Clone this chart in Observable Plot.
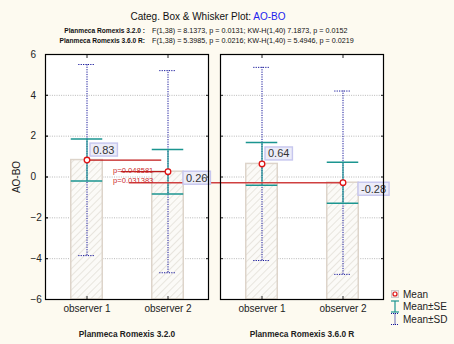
<!DOCTYPE html>
<html><head><meta charset="utf-8">
<script src="https://cdn.jsdelivr.net/npm/d3@7"></script>
<script src="https://cdn.jsdelivr.net/npm/@observablehq/plot@0.6"></script>
<style>
html,body{margin:0;padding:0;background:#fdfaf0;}
#chart{position:relative;width:454px;height:344px;background:#fdfaf0;font-family:"Liberation Sans",Arial,sans-serif;}
</style></head><body><div id="chart"></div>
<script>
// ---- data ----
const versions = ["Planmeca Romexis 3.2.0", "Planmeca Romexis 3.6.0 R"];
const observers = ["observer 1", "observer 2"];
const means = [0.83, 0.26, 0.64, -0.28];
const se = [1.03, 1.09, 1.05, 1.00];
const sd = [4.68, 4.95, 4.73, 4.49];
const yDomain = [-6, 6];
const yTicks = [-6, -4, -2, 0, 2, 4, 6];
const gridTicks = [-4, -2, 0, 2, 4];
const titleMain = "Categ. Box & Whisker Plot: ";
const titleVar = "AO-BO";
const statLabels = ["Planmeca Romexis 3.2.0 :", "Planmeca Romexis 3.6.0 R:"];
const statTexts = ["F(1,38) = 8.1373, p = 0.0131; KW-H(1,40) 7.1873, p = 0.0152",
                   "F(1,38) = 5.3985, p = 0.0216; KW-H(1,40) = 5.4946, p = 0.0219"];
const pValues = ["p=0.048581", "p=0.031383"];
const legendItems = ["Mean", "Mean±SE", "Mean±SD"];

const rows = [];
versions.forEach((v, vi) => observers.forEach((o, oi) => {
  const k = vi * 2 + oi;
  rows.push({version: v, observer: o, mean: means[k],
    seLo: means[k] - se[k], seHi: means[k] + se[k],
    sdLo: means[k] - sd[k], sdHi: means[k] + sd[k],
    label: means[k].toFixed(2)});
}));
const labelSet = new Set(rows.map(d => d.label));

// ---- style constants ----
const half = 40.75; // half of band
const RED = "#cc2a2a", TEAL = "#1b9590", NAVY = "#14149a";

const svg = Plot.plot({
  width: 454, height: 344,
  marginLeft: 45, marginRight: 71, marginTop: 54, marginBottom: 45,
  style: {fontFamily: "'Liberation Sans', Arial, sans-serif", fontSize: "10px", background: "#fdfaf0", color: "#222"},
  fx: {domain: versions, paddingInner: 12 / 175, paddingOuter: 0},
  x: {domain: observers, padding: 0},
  y: {domain: yDomain},
  marks: [
    Plot.frame({fill: "white", stroke: "none"}),
    Plot.gridY(gridTicks, {stroke: "#b8b8b8", strokeOpacity: 1, strokeDasharray: "1,1.3"}),
    Plot.barY(rows, {fx: "version", x: "observer", y1: yDomain[0], y2: "mean",
      fill: "url(#hatch)", stroke: "#ddd4ca", strokeWidth: 1.5, insetLeft: 24.75, insetRight: 24.75}),
    // SD whiskers
    Plot.ruleX(rows, {fx: "version", x: "observer", y1: "sdLo", y2: "sdHi", stroke: NAVY, strokeWidth: 1, strokeDasharray: "1.2,1.2"}),
    Plot.tickY(rows, {fx: "version", x: "observer", y: "sdHi", stroke: NAVY, strokeDasharray: "1.2,1.2", insetLeft: 32.25, insetRight: 32.25}),
    Plot.tickY(rows, {fx: "version", x: "observer", y: "sdLo", stroke: NAVY, strokeDasharray: "1.2,1.2", insetLeft: 32.25, insetRight: 32.25}),
    // SE whiskers
    Plot.ruleX(rows, {fx: "version", x: "observer", y1: "seLo", y2: "seHi", stroke: TEAL, strokeWidth: 1.2}),
    Plot.tickY(rows, {fx: "version", x: "observer", y: "seHi", stroke: TEAL, strokeWidth: 1.5, insetLeft: 24.75, insetRight: 24.75}),
    Plot.tickY(rows, {fx: "version", x: "observer", y: "seLo", stroke: TEAL, strokeWidth: 1.5, insetLeft: 24.75, insetRight: 24.75}),
    // comparison lines
    Plot.ruleY([rows[0]], {fx: "version", y: "mean", x1: () => observers[0], x2: () => observers[1],
      insetLeft: half, insetRight: half + 6, stroke: "#c01818", strokeWidth: 1.2}),
    Plot.ruleY([rows[1]], {fx: "version", y: "mean", x1: () => observers[1], x2: () => observers[1],
      insetLeft: half - 47, insetRight: half, stroke: "#b81c1c", strokeWidth: 1.2}),
    Plot.ruleY([rows[3]], {fx: "version", y: "mean", x1: () => observers[1], x2: () => observers[1],
      insetLeft: half - 214, insetRight: half, stroke: "#cf4040", strokeWidth: 1.5}),
    Plot.text([rows[1]], {fx: () => versions[0], x: () => observers[0], y: "mean", text: () => pValues[0],
      textAnchor: "start", lineAnchor: "bottom", dx: 26, dy: 1, fill: RED, fontSize: 7.6}),
    Plot.text([rows[3]], {fx: () => versions[0], x: () => observers[0], y: "mean", text: () => pValues[1],
      textAnchor: "start", lineAnchor: "bottom", dx: 26, dy: 0, fill: RED, fontSize: 7.6}),
    // means
    Plot.dot(rows, {fx: "version", x: "observer", y: "mean", r: 2.8, stroke: "#e01414", fill: "white", strokeWidth: 1.3}),
    // value labels
    Plot.text(rows, {filter: d => d.observer === observers[0], fx: "version", x: "observer", y: "mean", text: "label",
      textAnchor: "start", lineAnchor: "middle", dx: 6, dy: -10, fontSize: 11, fill: "#333"}),
    Plot.text(rows, {filter: d => d.observer === observers[1], fx: "version", x: "observer", y: "mean", text: "label",
      textAnchor: "start", lineAnchor: "middle", dx: 18, dy: 6.5, fontSize: 11, fill: "#333"}),
    // axes
    Plot.axisY({anchor: "left", ticks: yTicks, tickSize: -3, tickPadding: 18, textAnchor: "start",
      label: "AO-BO", labelAnchor: "center", labelOffset: 33, labelArrow: "none", fontSize: 10}),
    Plot.axisY({anchor: "left", ticks: yTicks, tickSize: -3, tickFormat: () => "", label: null, facetAnchor: null}),
    Plot.axisY({anchor: "right", ticks: yTicks, tickSize: -3, tickFormat: () => "", label: null, facetAnchor: null}),
    Plot.axisX({anchor: "bottom", tickSize: -3, tickPadding: 8, label: null, fontSize: 10}),
    Plot.axisX({anchor: "top", tickSize: -3, tickFormat: () => "", label: null}),
    Plot.axisFx({anchor: "bottom", tickSize: 0, tickPadding: 32, label: null, fontWeight: "bold", fontSize: 8.3}),
    Plot.frame({stroke: "#000", strokeWidth: 1.2})
  ]
});

document.getElementById("chart").appendChild(svg);
const s = d3.select(svg);

// hatch pattern for bars
const defs = s.insert("defs", ":first-child");
const pat = defs.append("pattern").attr("id", "hatch").attr("patternUnits", "userSpaceOnUse")
  .attr("width", 5).attr("height", 5).attr("patternTransform", "rotate(45)");
pat.append("rect").attr("width", 5).attr("height", 5).attr("fill", "#fbfaf7");
pat.append("line").attr("x1", 0).attr("y1", 0).attr("x2", 0).attr("y2", 5)
  .attr("stroke", "#e1dcd4").attr("stroke-width", 1.4);

// boxes behind value labels (with a leader line for the labels set below the point)
s.selectAll("text").each(function () {
  if (!labelSet.has(this.textContent)) return;
  const b = this.getBBox();
  const r = document.createElementNS("http://www.w3.org/2000/svg", "rect");
  r.setAttribute("x", b.x - 3); r.setAttribute("y", b.y - 0.5);
  r.setAttribute("width", b.width + 6); r.setAttribute("height", b.height + 1);
  r.setAttribute("fill", "#ececf8"); r.setAttribute("stroke", "#c6c6ee"); r.setAttribute("stroke-width", 1.4);
  const t = this.getAttribute("transform"); if (t) r.setAttribute("transform", t);
  this.parentNode.insertBefore(r, this);
});

// title and stats
const ff = "'Liberation Sans', Arial, sans-serif";
const title = s.append("text").attr("x", 208).attr("y", 19.5).attr("text-anchor", "middle")
  .attr("font-family", ff).attr("font-size", 10).attr("fill", "#111");
title.append("tspan").text(titleMain);
title.append("tspan").attr("fill", "#2222ee").text(titleVar);
statLabels.forEach((lab, i) => {
  const yy = 33 + i * 10;
  s.append("text").attr("x", 145).attr("y", yy).attr("text-anchor", "end").attr("font-family", ff)
    .attr("font-size", 6.6).attr("font-weight", "bold").attr("fill", "#111").text(lab);
  s.append("text").attr("x", 152).attr("y", yy).attr("text-anchor", "start").attr("font-family", ff)
    .attr("font-size", 7.2).attr("fill", "#111").text(statTexts[i]);
});

// legend
const lg = s.append("g").attr("font-family", ff).attr("font-size", 10).attr("fill", "#222").attr("text-anchor", "start");
const lx = 395, ly = [294, 306.5, 319];
lg.append("rect").attr("x", lx - 3.5).attr("y", ly[0] - 3.5).attr("width", 7).attr("height", 7)
  .attr("fill", "#eeeaea").attr("stroke", "#cfcaca");
lg.append("circle").attr("cx", lx).attr("cy", ly[0]).attr("r", 2).attr("fill", "white").attr("stroke", "#e01414").attr("stroke-width", 1.2);
[[TEAL, null], [NAVY, "1,1"]].forEach(([c, dash], i) => {
  const cy = ly[i + 1];
  const g = lg.append("g").attr("stroke", c).attr("stroke-width", 1.2).attr("stroke-dasharray", dash);
  g.append("line").attr("x1", lx).attr("x2", lx).attr("y1", cy - 5.5).attr("y2", cy + 5.5);
  g.append("line").attr("x1", lx - 4).attr("x2", lx + 4).attr("y1", cy - 5.5).attr("y2", cy - 5.5);
  g.append("line").attr("x1", lx - 4).attr("x2", lx + 4).attr("y1", cy + 5.5).attr("y2", cy + 5.5);
});
legendItems.forEach((t, i) => {
  lg.append("text").attr("x", 403).attr("y", ly[i]).attr("dy", "0.35em").attr("text-anchor", "start").text(t);
});
</script></body></html>
